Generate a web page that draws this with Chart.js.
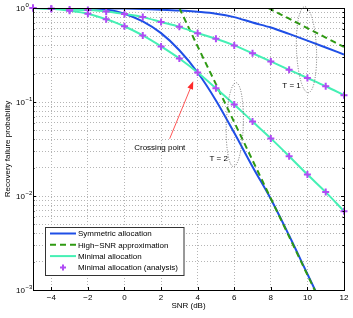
<!DOCTYPE html>
<html>
<head>
<meta charset="utf-8">
<script src="https://cdn.jsdelivr.net/npm/chart.js@4.4.0/dist/chart.umd.min.js"></script>
<style>
  html, body { margin: 0; padding: 0; background: #fff; }
</style>
</head>
<body>
<canvas id="grafico" width="353" height="318"></canvas>
<script>
// --- data ---
const snr = [-5, -4, -3, -2, -1, 0, 1, 2, 3, 4, 5, 6, 7, 8, 9, 10, 11, 12];

// symmetric allocation (simulation)
const symT1 = [1.0, 1.0, 0.998, 0.995, 0.99, 0.985, 0.975, 0.96, 0.94, 0.91, 0.87, 0.80, 0.70, 0.62, 0.53, 0.45, 0.38, 0.32];
const symT2 = [1.0, 1.0, 0.998, 0.995, 0.965, 0.87, 0.72, 0.54, 0.355, 0.206, 0.104, 0.047, 0.0205, 0.0093, 0.0038, 0.00148, 0.00058];

// minimal allocation (simulation line + analysis markers)
const minT1 = [1.0, 0.983, 0.966, 0.95, 0.92, 0.863, 0.80, 0.71, 0.63, 0.54, 0.47, 0.40, 0.33, 0.27, 0.22, 0.18, 0.147, 0.118];
const minT2 = [1.0, 0.98, 0.935, 0.87, 0.76, 0.64, 0.51, 0.39, 0.29, 0.206, 0.14, 0.094, 0.062, 0.041, 0.0265, 0.0169, 0.011, 0.0069];

// high-SNR approximation
const hsnrT1x = [7.86, 8, 9, 10, 11, 12];
const hsnrT1 = [1.0, 0.968, 0.769, 0.611, 0.485, 0.385];
const hsnrT2x = [3, 4, 5, 6, 7, 8, 9, 10, 11];
const hsnrT2 = [1.0, 0.39, 0.155, 0.061, 0.024, 0.0094, 0.0037, 0.00145, 0.00057];

// axes
const xTicks = [-4, -2, 0, 2, 4, 6, 8, 10, 12];
const yDecades = [1, 0.1, 0.01, 0.001];
const yExps = ['0', '\u22121', '\u22122', '\u22123'];

// annotations (data units)
const notaT1 = { x: 9.95, y: 0.36, texto: 'T = 1', tx: 9.13, ty: 0.149 };
const notaT2 = { x: 6.03, y: 0.0574, texto: 'T = 2', tx: 5.15, ty: 0.0249 };
const cruce = { texto: 'Crossing point', tx: 1.93, ty: 0.0327, x0: 2.47, y0: 0.0407, x1: 3.76, y1: 0.166 };

const AZUL = '#1f4fe6';
const VERDE_OSC = '#2f9a12';
const VERDE = '#45f0b4';
const MORADO = '#b04cf5';
const FUENTE = '"Liberation Sans", Arial, Helvetica, sans-serif';

const pares = (xs, ys) => ys.map((y, i) => ({ x: xs[i], y: y }));

// minor + major grid for the log axis
const yGrid = [];
[0.001, 0.01, 0.1].forEach(d => { for (let k = 1; k < 10; k++) yGrid.push(+(d * k).toPrecision(3)); });
yGrid.push(1);

const base = { fill: false, pointRadius: 0, cubicInterpolationMode: 'monotone' };

const datasets = [
  { label: 'Minimal allocation (analysis)', legend: true, data: pares(snr, minT1), showLine: false,
    pointStyle: 'cross', pointRadius: 3.5, pointBorderWidth: 2, pointBorderColor: MORADO, borderColor: MORADO, clip: 8 },
  { label: '', data: pares(snr, minT2), showLine: false,
    pointStyle: 'cross', pointRadius: 3.5, pointBorderWidth: 2, pointBorderColor: MORADO, borderColor: MORADO, clip: 8 },
  { ...base, label: 'Minimal allocation', legend: true, data: pares(snr, minT1), borderColor: VERDE, borderWidth: 2 },
  { ...base, label: '', data: pares(snr, minT2), borderColor: VERDE, borderWidth: 2 },
  { ...base, label: 'High\u2212SNR approximation', legend: true, data: pares(hsnrT1x, hsnrT1), borderColor: VERDE_OSC, borderWidth: 2, borderDash: [6, 4] },
  { ...base, label: '', data: pares(hsnrT2x, hsnrT2), borderColor: VERDE_OSC, borderWidth: 2, borderDash: [6, 4] },
  { ...base, label: 'Symmetric allocation', legend: true, data: pares(snr, symT1), borderColor: AZUL, borderWidth: 2 },
  { ...base, label: '', data: pares(snr, symT2), borderColor: AZUL, borderWidth: 2 }
];

const adornos = {
  id: 'adornos',
  afterDatasetsDraw(chart) {
    const { ctx, chartArea: a, scales: { x, y } } = chart;
    ctx.save();

    // box
    ctx.strokeStyle = '#000';
    ctx.lineWidth = 1;
    ctx.strokeRect(Math.round(a.left) + 0.5, Math.round(a.top) + 0.5, Math.round(a.right - a.left), Math.round(a.bottom - a.top));

    // inside tick marks
    ctx.beginPath();
    xTicks.forEach(v => {
      const px = Math.round(x.getPixelForValue(v)) + 0.5;
      ctx.moveTo(px, a.bottom); ctx.lineTo(px, a.bottom - 3);
      ctx.moveTo(px, a.top); ctx.lineTo(px, a.top + 3);
    });
    yGrid.forEach(v => {
      const py = Math.round(y.getPixelForValue(v)) + 0.5;
      const len = yDecades.includes(v) ? 3 : 1.5;
      ctx.moveTo(a.left, py); ctx.lineTo(a.left + len, py);
      ctx.moveTo(a.right, py); ctx.lineTo(a.right - len, py);
    });
    ctx.stroke();

    // y tick labels 10^n
    ctx.fillStyle = '#000';
    ctx.textBaseline = 'middle';
    ctx.textAlign = 'left';
    yDecades.forEach((v, i) => {
      const py = y.getPixelForValue(v);
      ctx.font = '8px ' + FUENTE;
      ctx.fillText('10', 16, py + 1);
      const w = ctx.measureText('10').width;
      ctx.font = '6px ' + FUENTE;
      ctx.fillText(yExps[i], 16 + w + 0.5, py - 3);
    });

    // dotted ellipses and labels
    ctx.font = '8px ' + FUENTE;
    [notaT1, notaT2].forEach((n, i) => {
      ctx.save();
      ctx.setLineDash([1, 1.5]);
      ctx.strokeStyle = '#555';
      ctx.lineWidth = 0.8;
      ctx.beginPath();
      ctx.ellipse(x.getPixelForValue(n.x), y.getPixelForValue(n.y), i === 0 ? 10 : 8.5, i === 0 ? 43 : 42, i === 0 ? -0.04 : 0.03, 0, Math.PI * 2);
      ctx.stroke();
      ctx.restore();
      ctx.textAlign = 'center';
      ctx.fillStyle = '#000';
      ctx.fillText(n.texto, x.getPixelForValue(n.tx), y.getPixelForValue(n.ty));
    });

    // crossing point arrow
    ctx.textAlign = 'center';
    ctx.fillText(cruce.texto, x.getPixelForValue(cruce.tx), y.getPixelForValue(cruce.ty));
    const x0 = x.getPixelForValue(cruce.x0), y0 = y.getPixelForValue(cruce.y0);
    const x1 = x.getPixelForValue(cruce.x1), y1 = y.getPixelForValue(cruce.y1);
    const ang = Math.atan2(y1 - y0, x1 - x0);
    ctx.strokeStyle = '#ff2a2a';
    ctx.fillStyle = '#ff2a2a';
    ctx.lineWidth = 0.8;
    ctx.beginPath();
    ctx.moveTo(x0, y0);
    ctx.lineTo(x1 - 7 * Math.cos(ang), y1 - 7 * Math.sin(ang));
    ctx.stroke();
    ctx.beginPath();
    ctx.moveTo(x1, y1);
    ctx.lineTo(x1 - 8 * Math.cos(ang) + 3 * Math.sin(ang), y1 - 8 * Math.sin(ang) - 3 * Math.cos(ang));
    ctx.lineTo(x1 - 8 * Math.cos(ang) - 3 * Math.sin(ang), y1 - 8 * Math.sin(ang) + 3 * Math.cos(ang));
    ctx.closePath();
    ctx.fill();

    // legend box (lower left, inside axes)
    const items = chart.data.datasets.filter(d => d.legend).reverse();
    const bx = 45.5, by = 227.5, bw = 138.5, bh = 48;
    ctx.fillStyle = '#fff';
    ctx.fillRect(bx, by, bw, bh);
    ctx.strokeStyle = '#333';
    ctx.lineWidth = 1;
    ctx.strokeRect(bx, by, bw, bh);
    items.forEach((d, i) => {
      const ry = 233.5 + i * 11.3;
      if (d.showLine === false) {
        ctx.strokeStyle = d.pointBorderColor;
        ctx.lineWidth = 2;
        ctx.beginPath();
        ctx.moveTo(63, ry - 3); ctx.lineTo(63, ry + 3);
        ctx.moveTo(60, ry); ctx.lineTo(66, ry);
        ctx.stroke();
      } else {
        ctx.save();
        ctx.strokeStyle = d.borderColor;
        ctx.lineWidth = d.borderWidth;
        ctx.setLineDash(d.borderDash || []);
        ctx.beginPath();
        ctx.moveTo(50, ry); ctx.lineTo(76, ry);
        ctx.stroke();
        ctx.restore();
      }
      ctx.fillStyle = '#000';
      ctx.textAlign = 'left';
      ctx.font = '8px ' + FUENTE;
      ctx.fillText(d.label, 78, ry + 0.5);
    });

    ctx.restore();
  }
};

const gridComun = { color: '#b5b5b5', lineWidth: 1, drawTicks: false };

new Chart(document.getElementById('grafico'), {
  type: 'line',
  data: { datasets: datasets },
  options: {
    responsive: false,
    animation: false,
    devicePixelRatio: 1,
    layout: { padding: { top: 8, right: 9, left: 0, bottom: 0 } },
    plugins: { legend: { display: false }, tooltip: { enabled: false } },
    scales: {
      x: {
        type: 'linear', min: -5, max: 12,
        afterBuildTicks: s => { s.ticks = xTicks.map(v => ({ value: v })); },
        afterFit: s => { s.height = 28; },
        grid: gridComun,
        border: { display: false, dash: [1, 2] },
        ticks: {
          autoSkip: false, maxRotation: 0, padding: 3, color: '#000',
          font: { family: FUENTE, size: 8 },
          callback: v => String(v).replace('-', '\u2212')
        },
        title: { display: true, text: 'SNR (dB)', color: '#000', font: { family: FUENTE, size: 8 }, padding: { top: 0, bottom: 7 } }
      },
      y: {
        type: 'logarithmic', min: 0.001, max: 1,
        afterBuildTicks: s => { s.ticks = yGrid.map(v => ({ value: v })); },
        afterFit: s => { s.width = 33; },
        grid: gridComun,
        border: { display: false, dash: [1, 2] },
        ticks: { display: false },
        title: { display: true, text: 'Recovery failure probability', color: '#000', font: { family: FUENTE, size: 8 }, padding: { top: 3, bottom: 0 } }
      }
    }
  },
  plugins: [adornos]
});
</script>
</body>
</html>
